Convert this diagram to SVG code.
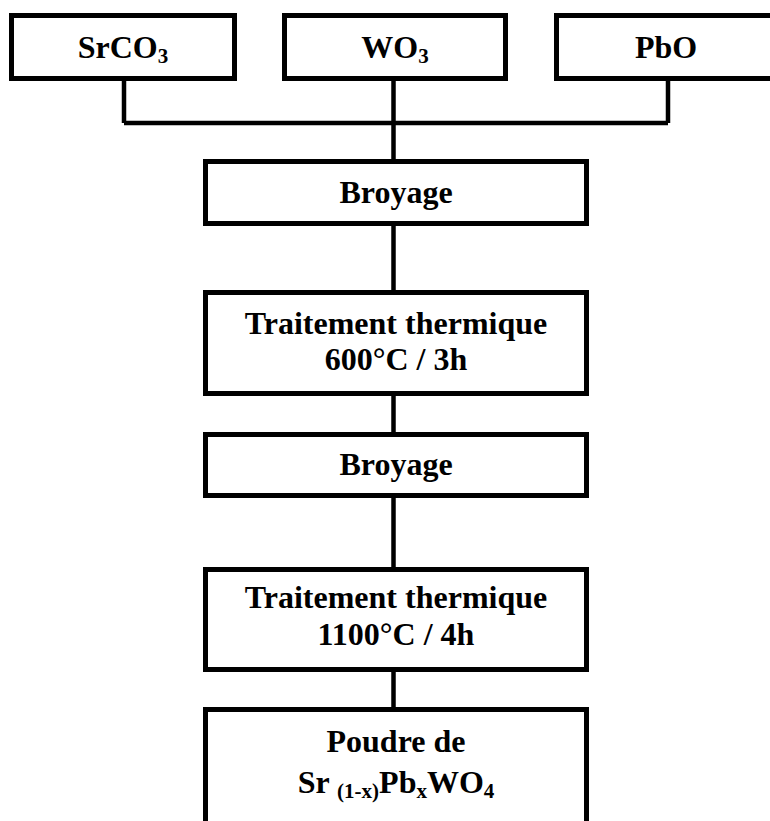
<svg xmlns="http://www.w3.org/2000/svg" width="770" height="821" viewBox="0 0 770 821">
<style>
.box{fill:#fff;stroke:#000;stroke-width:5}
.t{font-family:"Liberation Serif","Times New Roman",serif;font-weight:bold;font-size:32px;text-anchor:middle;fill:#000}
.s{font-size:21px}
.c{stroke:#000;stroke-width:4.5;fill:none}
</style>
<rect width="770" height="821" fill="#fff"/>
<g id="connectors">
<path class="c" d="M124,81V123M668,81V123M124,123H668M393.5,81V159"/>
<path class="c" d="M393.5,226V290M393.5,396V432M393.5,498V567M393.5,672V707"/>
</g>
<g id="srco3"><rect class="box" x="11.5" y="15.5" width="223" height="63"/><text class="t" x="123" y="58">SrCO<tspan class="s" dy="5">3</tspan></text></g>
<g id="wo3"><rect class="box" x="284.5" y="15.5" width="221" height="63"/><text class="t" x="395" y="58">WO<tspan class="s" dy="5">3</tspan></text></g>
<g id="pbo"><rect class="box" x="556.5" y="15.5" width="230" height="63"/><text class="t" x="666" y="58">PbO</text></g>
<g id="broyage1"><rect class="box" x="205.5" y="161.5" width="381" height="62"/><text class="t" x="396" y="203">Broyage</text></g>
<g id="traitement1"><rect class="box" x="205.5" y="292.5" width="381" height="101"/><text class="t" x="396" y="334">Traitement thermique</text><text class="t" x="396" y="370">600°C / 3h</text></g>
<g id="broyage2"><rect class="box" x="205.5" y="434.5" width="381" height="61"/><text class="t" x="396" y="475">Broyage</text></g>
<g id="traitement2"><rect class="box" x="205.5" y="569.5" width="381" height="100"/><text class="t" x="396" y="608">Traitement thermique</text><text class="t" x="396" y="645">1100°C / 4h</text></g>
<g id="poudre"><rect class="box" x="205.5" y="709.5" width="381" height="200"/><text class="t" x="396" y="752">Poudre de</text><text class="t" x="396" y="793">Sr <tspan class="s" dy="5">(1-x)</tspan><tspan dy="-5">Pb</tspan><tspan class="s" dy="5">x</tspan><tspan dy="-5">WO</tspan><tspan class="s" dy="5">4</tspan></text></g>
</svg>
